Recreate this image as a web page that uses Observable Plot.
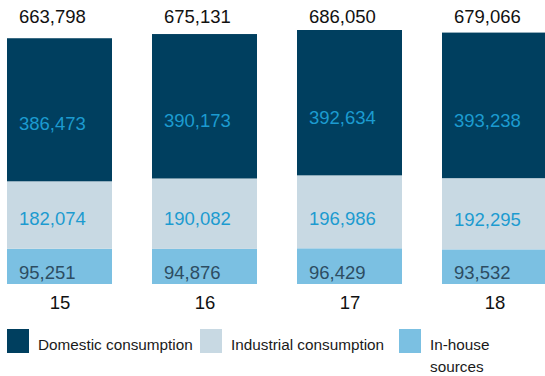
<!DOCTYPE html>
<html>
<head>
<meta charset="utf-8">
<script src="https://cdn.jsdelivr.net/npm/d3@7"></script>
<script src="https://cdn.jsdelivr.net/npm/@observablehq/plot@0.6"></script>
<style>
  html, body { margin: 0; padding: 0; background: #fff; }
  body { width: 545px; height: 376px; overflow: hidden; font-family: "Liberation Sans", Arial, Helvetica, sans-serif; }
  #legend { position: relative; height: 58px; margin-top: 0; }
  .item { position: absolute; top: 11px; display: flex; align-items: flex-start; }
  .sw { width: 22px; height: 24px; flex: none; }
  .lab { margin-left: 9px; margin-top: 5px; font-size: 15.3px; line-height: 22px; color: #1a1a1a; }
</style>
</head>
<body>
<div id="chart"></div>
<div id="legend"></div>
<script>
const years = ["15", "16", "17", "18"];
const domestic = [386473, 390173, 392634, 393238];
const industrial = [182074, 190082, 196986, 192295];
const inhouse = [95251, 94876, 96429, 93532];
const totals = [663798, 675131, 686050, 679066];
const seriesNames = ["Domestic consumption", "Industrial consumption", "In-house sources"];
const seriesColors = ["#003f5f", "#c8d9e3", "#7bc0e2"];

const fmt = d3.format(",");
// stacking order: in-house at bottom, industrial, domestic on top
const rows = [];
years.forEach((y, i) => {
  rows.push({year: y, series: seriesNames[2], value: inhouse[i]});
  rows.push({year: y, series: seriesNames[1], value: industrial[i]});
  rows.push({year: y, series: seriesNames[0], value: domestic[i]});
});

const font = "'Liberation Sans', Arial, Helvetica, sans-serif";
const labelFor = (name) => (d) => d.series === name ? fmt(d.value) : null;
const FS = 18.5;

const chart = Plot.plot({
  width: 545,
  height: 318,
  marginTop: 30,
  marginBottom: 34,
  marginLeft: 0,
  marginRight: 0,
  style: {fontFamily: font, fontSize: FS + "px", background: "#fff"},
  x: {domain: years, range: [0, 554], paddingInner: 0.279, paddingOuter: 0.041, axis: null},
  y: {axis: null},
  color: {domain: seriesNames, range: seriesColors},
  marks: [
    Plot.barY(rows, {x: "year", y: "value", fill: "series", z: "series"}),
    Plot.text(rows, Plot.stackY1({x: "year", y: "value", z: "series",
      text: labelFor(seriesNames[2]), fill: "#2d4d62", textAnchor: "start", dx: -41, dy: -11,
      lineAnchor: "middle", fontSize: FS})),
    Plot.text(rows, Plot.stackY1({x: "year", y: "value", z: "series",
      text: labelFor(seriesNames[1]), fill: "#1c9bd0", textAnchor: "start", dx: -41, dy: -30,
      lineAnchor: "middle", fontSize: FS})),
    Plot.text(rows, Plot.stackY1({x: "year", y: "value", z: "series",
      text: labelFor(seriesNames[0]), fill: "#1c9bd0", textAnchor: "start", dx: -41, dy: -58,
      lineAnchor: "middle", fontSize: FS})),
    Plot.text(years, {x: (d) => d, frameAnchor: "top", text: (d, i) => fmt(totals[i]),
      fill: "#111", textAnchor: "start", dx: -41, dy: -13, lineAnchor: "middle", fontSize: FS}),
    Plot.axisX({tickSize: 0, tickPadding: 11, fontSize: FS, fill: "#111", label: null})
  ]
});
document.getElementById("chart").appendChild(chart);

const lefts = [7, 200, 399];
const widths = [170, 170, 90];
const legend = document.getElementById("legend");
seriesNames.forEach((name, i) => {
  const it = document.createElement("div");
  it.className = "item";
  it.style.left = lefts[i] + "px";
  const sw = document.createElement("div");
  sw.className = "sw";
  sw.style.background = seriesColors[i];
  const lab = document.createElement("div");
  lab.className = "lab";
  lab.style.width = widths[i] + "px";
  lab.textContent = name;
  it.appendChild(sw);
  it.appendChild(lab);
  legend.appendChild(it);
});
</script>
</body>
</html>
